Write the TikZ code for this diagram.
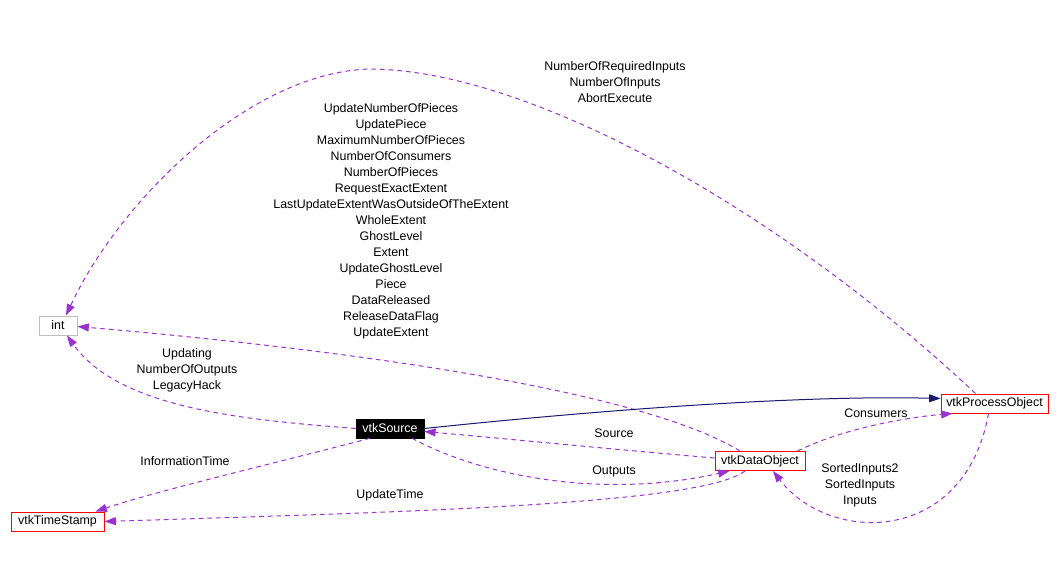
\documentclass[tikz,border=0pt]{standalone}
\usepackage{fontspec}
\setmainfont{Liberation Sans}
\usetikzlibrary{arrows.meta,calc}
\definecolor{edgepurple}{RGB}{154,50,205}
\definecolor{navyblue}{RGB}{25,25,112}
\definecolor{boxgray}{RGB}{191,191,191}
\definecolor{boxred}{RGB}{255,0,0}
\begin{document}
\begin{tikzpicture}[x=0.75pt,y=-0.75pt,
  every node/.style={font=\fontsize{9.3}{12}\selectfont},
  cls/.style={draw=boxred,line width=0.75pt,fill=white,minimum height=14.25pt,inner sep=0pt},
  graybox/.style={draw=boxgray,line width=0.75pt,fill=white,minimum height=14.25pt,inner sep=0pt},
  srcbox/.style={draw=black,fill=black,text=white,minimum height=14.25pt,inner sep=0pt},
  rel/.style={draw=edgepurple,line width=0.75pt,dash pattern=on 3.5pt off 3pt,
     -{Triangle[length=8.5pt,width=6pt,fill=edgepurple]}},
  inh/.style={draw=navyblue,line width=0.75pt,
     -{Triangle[length=8.5pt,width=6pt,fill=navyblue]}},
  lbl/.style={align=center,inner sep=0pt,text=black}]
\useasboundingbox (0,0) rectangle (1061,581);
\fill[white] (0,0) rectangle (1061,581);

% labels
\node[lbl] (l1) at (615,82) {NumberOfRequiredInputs\\NumberOfInputs\\AbortExecute};
\node[lbl] (l2) at (391,221) {UpdateNumberOfPieces\\UpdatePiece\\MaximumNumberOfPieces\\NumberOfConsumers\\NumberOfPieces\\RequestExactExtent\\LastUpdateExtentWasOutsideOfTheExtent\\WholeExtent\\GhostLevel\\Extent\\UpdateGhostLevel\\Piece\\DataReleased\\ReleaseDataFlag\\UpdateExtent};
\node[lbl] (l3) at (187,370) {Updating\\NumberOfOutputs\\LegacyHack};
\node[lbl] (l4) at (614,433) {Source};
\node[lbl] (l5) at (614,471) {Outputs};
\node[lbl] (l6) at (185,461) {InformationTime};
\node[lbl] (l7) at (390,495) {UpdateTime};
\node[lbl] (l8) at (876,413) {Consumers};
\node[lbl] (l9) at (860,485) {SortedInputs2\\SortedInputs\\Inputs};

% nodes
\node[graybox,minimum width=28.5pt] (int) at (58,325.5) {int};
\node[cls,minimum width=80.25pt] (pobj) at (994.5,403.5) {vtkProcessObject};
\node[cls,minimum width=69.75pt] (ts) at (57.5,521.5) {vtkTimeStamp};
\node[srcbox,minimum width=51pt] (src) at (390,428.5) {vtkSource};
\node[cls,minimum width=67.5pt] (dobj) at (760,461) {vtkDataObject};

% edges
\draw[rel] ($(pobj.north)+(-19,0)$) .. controls (780,210) and (530,70) .. (370,69)
   .. controls (250,72) and (120,200) .. ($(int.north)+(8,0)$);
\draw[rel] ($(dobj.north)+(-20,0)$) .. controls (640,390) and (350,350) .. ($(int.east)+(0,1)$);
\draw[rel] (src.west) .. controls (250,420) and (120,410) .. ($(int.south)+(9,0)$);
\draw[inh] (src.east) .. controls (600,410) and (800,395) .. ($(pobj.west)+(0,-5)$);
\draw[rel] ($(dobj.west)+(0,-3)$) .. controls (620,450) and (520,440) .. ($(src.east)+(0,3)$);
\draw[rel] ($(src.south)+(22,0)$) .. controls (480,475) and (600,500) .. ($(dobj.south west)+(15,0)$);
\draw[rel] ($(src.south)+(-20,0)$) .. controls (280,462) and (160,490) .. ($(ts.north)+(38,0)$);
\draw[rel] ($(dobj.south)+(-15,0)$) .. controls (700,505) and (400,512) .. (ts.east);
\draw[rel] ($(dobj.north east)+(-8,0)$) .. controls (840,430) and (900,418) .. ($(pobj.south)+(-42,0)$);
\draw[rel] ($(pobj.south)+(-6,0)$) .. controls (965,545) and (830,545) .. ($(dobj.south)+(13,0)$);
\end{tikzpicture}
\end{document}
